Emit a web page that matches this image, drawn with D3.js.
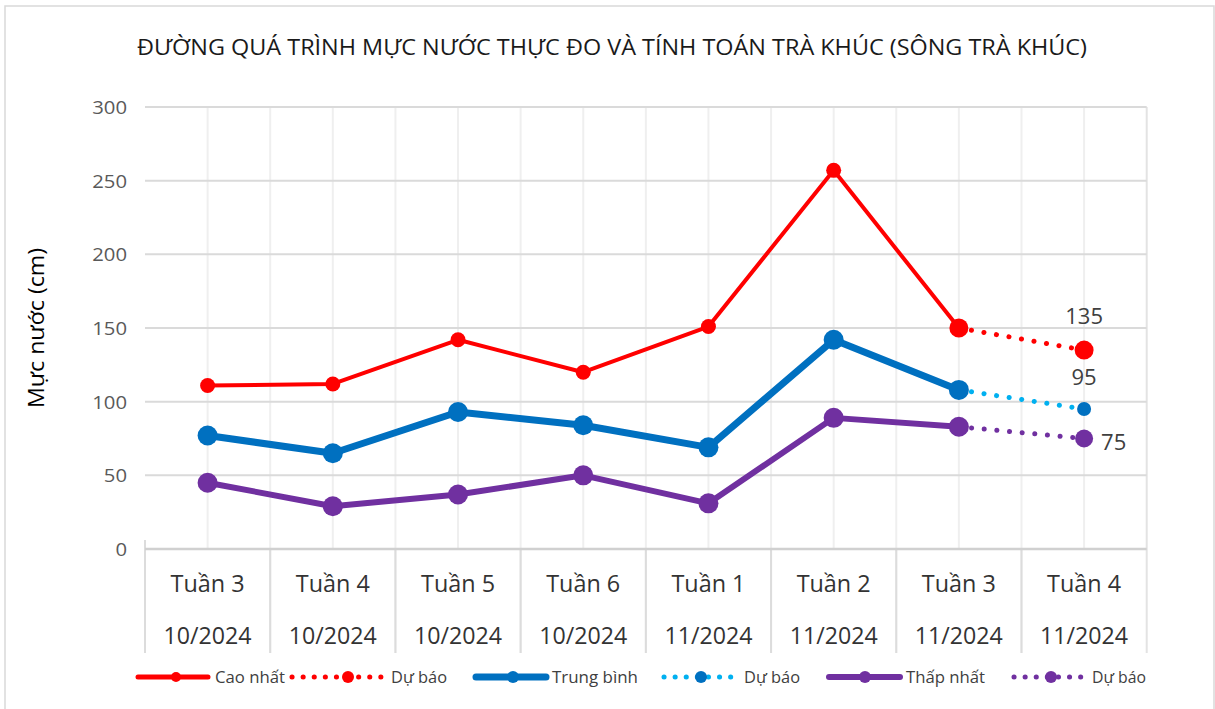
<!DOCTYPE html>
<html>
<head>
<meta charset="utf-8">
<script src="https://cdn.jsdelivr.net/npm/d3@7"></script>
<style>
  body { margin: 0; background: #fff; }
  text { font-family: "Open Sans", "Noto Sans", sans-serif; }
</style>
</head>
<body>
<div id="chart"></div>
<script>
    let weeks = ["Tuần 3", "Tuần 4", "Tuần 5", "Tuần 6", "Tuần 1", "Tuần 2", "Tuần 3", "Tuần 4"];
    let months = ["10/2024", "10/2024", "10/2024", "10/2024", "11/2024", "11/2024", "11/2024", "11/2024"];
    let caoNhat = [111, 112, 142, 120, 151, 257, 150, null];
    let trungBinh = [77, 65, 93, 84, 69, 142, 108, null];
    let thapNhat = [45, 29, 37, 50, 31, 89, 83, null];
    let duBaoCao = [null, null, null, null, null, null, 150, 135];
    let duBaoTB = [null, null, null, null, null, null, 108, 95];
    let duBaoThap = [null, null, null, null, null, null, 83, 75];
    let yTicks = [0, 50, 100, 150, 200, 250, 300];

(() => {
    let w = 1215;
    let h = 709;
    let pLeft = 145, pRight = 1146.7, pTop = 107, pBottom = 549, catBottom = 653;

    let svg = d3.select("#chart")
        .append("svg")
        .attr("width", w)
        .attr("height", h);

    svg.append("rect")
        .attr("x", 5).attr("y", 6)
        .attr("width", 1209).attr("height", 710)
        .attr("fill", "#fff")
        .attr("stroke", "#d9d9d9")
        .attr("stroke-width", 1.5);

    let x = d3.scaleBand()
        .domain(d3.range(weeks.length))
        .range([pLeft, pRight])
        .padding(0);
    let cx = (i) => x(i) + x.bandwidth() / 2;

    let y = d3.scaleLinear()
        .domain([0, 300])
        .range([pBottom, pTop]);

    // vertical gridlines: category centers and boundaries
    let grid = svg.append("g");
    d3.range(weeks.length).forEach((i) => {
        grid.append("line")
            .attr("x1", cx(i)).attr("x2", cx(i))
            .attr("y1", pTop).attr("y2", pBottom)
            .attr("stroke", "#efefef").attr("stroke-width", 2);
    });
    d3.range(1, weeks.length + 1).forEach((i) => {
        let xx = i < weeks.length ? x(i) : pRight;
        grid.append("line")
            .attr("x1", xx).attr("x2", xx)
            .attr("y1", pTop).attr("y2", catBottom)
            .attr("stroke", i < weeks.length ? "#efefef" : "#e3e3e3").attr("stroke-width", 2);
    });
    // lower part of boundaries (category box) a bit darker
    d3.range(0, weeks.length).forEach((i) => {
        grid.append("line")
            .attr("x1", x(i)).attr("x2", x(i))
            .attr("y1", i === 0 ? pBottom - 9 : pBottom).attr("y2", catBottom)
            .attr("stroke", "#dcdcdc").attr("stroke-width", 2);
    });

    // horizontal gridlines
    svg.append("g")
        .selectAll("line")
        .data(yTicks)
        .enter()
        .append("line")
        .attr("x1", pLeft).attr("x2", pRight)
        .attr("y1", (d) => y(d)).attr("y2", (d) => y(d))
        .attr("stroke", (d) => d === 0 ? "#d0d0d0" : "#dadada")
        .attr("stroke-width", (d) => d === 0 ? 2.5 : 2);

    // y tick labels
    svg.append("g")
        .selectAll("text")
        .data(yTicks)
        .enter()
        .append("text")
        .attr("x", 127)
        .attr("y", (d) => y(d) + 7)
        .attr("text-anchor", "end")
        .attr("font-size", 19)
        .attr("fill", "#595959")
        .attr("textLength", (d) => String(d).length * 11.6)
        .attr("lengthAdjust", "spacingAndGlyphs")
        .text((d) => d);

    // y title
    svg.append("text")
        .attr("transform", "translate(44, 328) rotate(-90)")
        .attr("text-anchor", "middle")
        .attr("font-size", 21)
        .attr("font-weight", 500)
        .attr("fill", "#000")
        .attr("textLength", 160)
        .attr("lengthAdjust", "spacingAndGlyphs")
        .text("Mực nước (cm)");

    // title
    svg.append("text")
        .attr("x", 612).attr("y", 55)
        .attr("text-anchor", "middle")
        .attr("font-size", 21)
        .attr("fill", "#1a1a1a")
        .attr("textLength", 950)
        .attr("lengthAdjust", "spacingAndGlyphs")
        .text("ĐƯỜNG QUÁ TRÌNH MỰC NƯỚC THỰC ĐO VÀ TÍNH TOÁN TRÀ KHÚC (SÔNG TRÀ KHÚC)");

    // category labels
    let cat = svg.append("g");
    weeks.forEach((d, i) => {
        cat.append("text")
            .attr("x", cx(i)).attr("y", 592)
            .attr("text-anchor", "middle")
            .attr("font-size", 23)
            .attr("fill", "#333")
            .attr("textLength", 74)
            .attr("lengthAdjust", "spacingAndGlyphs")
            .text(d);
        cat.append("text")
            .attr("x", cx(i)).attr("y", 644)
            .attr("text-anchor", "middle")
            .attr("font-size", 23)
            .attr("fill", "#333")
            .attr("textLength", 88)
            .attr("lengthAdjust", "spacingAndGlyphs")
            .text(months[i]);
    });

    let line = d3.line()
        .defined((d) => d !== null)
        .x((d, i) => cx(i))
        .y((d) => y(d));

    let series = [
        { data: caoNhat, color: "#ff0000", width: 4, r: 7.5, dash: null, mark: "#ff0000" },
        { data: duBaoCao, color: "#ff0000", width: 5, r: 9.5, dash: "0.1 12.6", mark: "#ff0000" },
        { data: trungBinh, color: "#0070c0", width: 7, r: 10, dash: null, mark: "#0070c0" },
        { data: duBaoTB, color: "#00b0f0", width: 5, r: 7, dash: "0.1 12.6", mark: "#0070c0" },
        { data: thapNhat, color: "#7030a0", width: 6, r: 10, dash: null, mark: "#7030a0" },
        { data: duBaoThap, color: "#7030a0", width: 5, r: 9, dash: "0.1 12.6", mark: "#7030a0" }
    ];

    series.forEach((s) => {
        svg.append("path")
            .datum(s.data)
            .attr("d", line)
            .attr("fill", "none")
            .attr("stroke", s.color)
            .attr("stroke-width", s.width)
            .attr("stroke-linecap", "round")
            .attr("stroke-linejoin", "round")
            .attr("stroke-dasharray", s.dash);
        svg.append("g")
            .selectAll("circle")
            .data(s.data.map((v, i) => ({ v: v, i: i })).filter((d) => d.v !== null))
            .enter()
            .append("circle")
            .attr("cx", (d) => cx(d.i))
            .attr("cy", (d) => y(d.v))
            .attr("r", s.r)
            .attr("fill", s.mark);
    });

    // data labels on forecasts
    let last = weeks.length - 1;
    let labelStyle = (t, n) => t.attr("font-size", 22).attr("fill", "#404040")
        .attr("textLength", n * 12.6).attr("lengthAdjust", "spacingAndGlyphs");
    svg.append("text")
        .attr("x", cx(last)).attr("y", y(duBaoCao[last]) - 26)
        .attr("text-anchor", "middle")
        .call(labelStyle, 3)
        .text(duBaoCao[last]);
    svg.append("text")
        .attr("x", cx(last)).attr("y", y(duBaoTB[last]) - 24)
        .attr("text-anchor", "middle")
        .call(labelStyle, 2)
        .text(duBaoTB[last]);
    svg.append("text")
        .attr("x", cx(last) + 17).attr("y", y(duBaoThap[last]) + 11)
        .attr("text-anchor", "start")
        .call(labelStyle, 2)
        .text(duBaoThap[last]);

    // legend
    let legendItems = [
        { label: "Cao nhất", x1: 138, x2: 208, mx: 176, color: "#ff0000", mark: "#ff0000", width: 5, r: 5, dash: null, tx: 215, tl: 70 },
        { label: "Dự báo", x1: 292, x2: 382, mx: 348, color: "#ff0000", mark: "#ff0000", width: 5, r: 6, dash: "0.1 11", tx: 391, tl: 56 },
        { label: "Trung bình", x1: 476, x2: 546, mx: 513, color: "#0070c0", mark: "#0070c0", width: 7, r: 6, dash: null, tx: 552, tl: 86 },
        { label: "Dự báo", x1: 664, x2: 737, mx: 701, color: "#00b0f0", mark: "#0070c0", width: 5, r: 6, dash: "0.1 11", tx: 744, tl: 56 },
        { label: "Thấp nhất", x1: 829, x2: 900, mx: 865, color: "#7030a0", mark: "#7030a0", width: 6, r: 6, dash: null, tx: 906, tl: 79 },
        { label: "Dự báo", x1: 1014, x2: 1085, mx: 1051, color: "#7030a0", mark: "#7030a0", width: 5, r: 6, dash: "0.1 11", tx: 1092, tl: 54 }
    ];
    let ly = 677;
    let legend = svg.append("g");
    legendItems.forEach((d) => {
        legend.append("line")
            .attr("x1", d.x1).attr("x2", d.x2)
            .attr("y1", ly).attr("y2", ly)
            .attr("stroke", d.color)
            .attr("stroke-width", d.width)
            .attr("stroke-linecap", "round")
            .attr("stroke-dasharray", d.dash);
        legend.append("circle")
            .attr("cx", d.mx).attr("cy", ly)
            .attr("r", d.r)
            .attr("fill", d.mark);
        legend.append("text")
            .attr("x", d.tx).attr("y", ly + 6)
            .attr("font-size", 16)
            .attr("fill", "#404040")
            .attr("textLength", d.tl)
            .attr("lengthAdjust", "spacingAndGlyphs")
            .text(d.label);
    });
})();
</script>
</body>
</html>
